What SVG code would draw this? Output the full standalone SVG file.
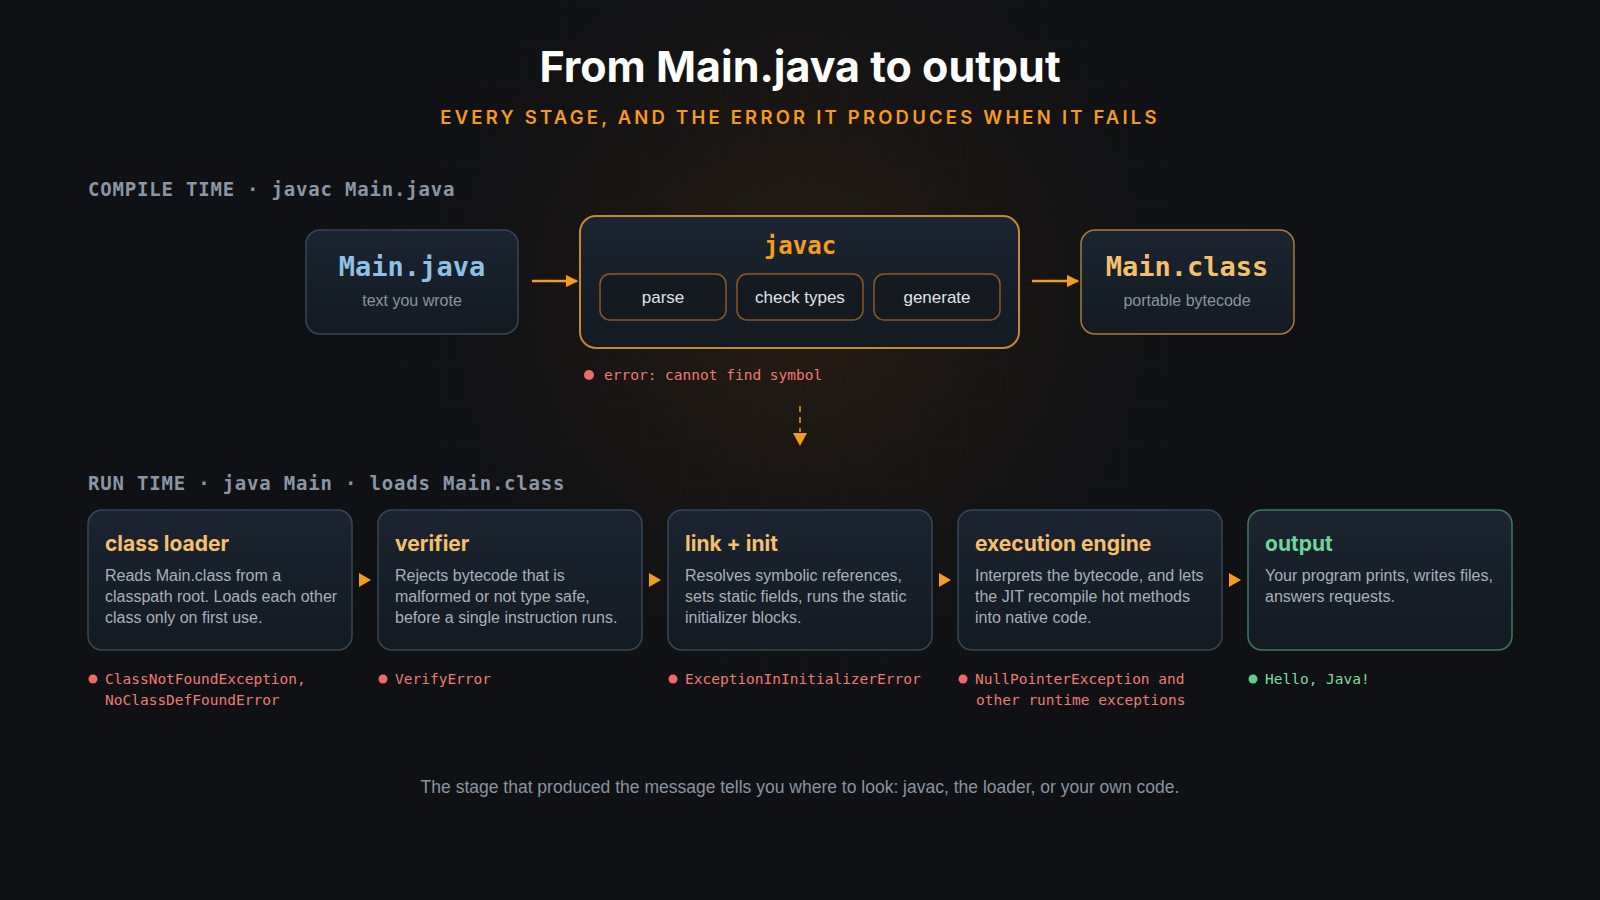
<svg xmlns="http://www.w3.org/2000/svg" width="1600" height="900" viewBox="0 0 1600 900">
<defs>
<radialGradient id="glow" cx="800" cy="300" r="520" gradientUnits="userSpaceOnUse"><stop offset="0" stop-color="#3a2510" stop-opacity="0.6"/><stop offset="1" stop-color="#0f1115" stop-opacity="0"/></radialGradient>
<linearGradient id="box" x1="0" y1="0" x2="0" y2="1"><stop offset="0" stop-color="#1b2430"/><stop offset="1" stop-color="#131a22"/></linearGradient>
<pattern id="grid" width="40" height="40" patternUnits="userSpaceOnUse"><path d="M40 0H0V40" fill="none" stroke="#ffffff" stroke-opacity="0.025"/></pattern>
<marker id="ah" viewBox="0 0 10 10" refX="9" refY="5" markerWidth="5" markerHeight="5" orient="auto"><path d="M0 0L10 5L0 10Z" fill="#f39c1f"/></marker>
</defs>
<style>
.sans{font-family:Inter,"Liberation Sans",sans-serif}
.lib{font-family:"Liberation Sans",Arial,sans-serif}
.mono{font-family:"DejaVu Sans Mono","Liberation Mono",monospace}
.node{fill:url(#box);stroke:#34485a;stroke-width:1.5}
.onode{fill:url(#box);stroke:#c8862e;stroke-width:2}
.sub{fill:#151a21;stroke:#8a5a25;stroke-width:1.5}
.ttl{font-size:21px;font-weight:700;fill:#f5c06a}
.desc{font-size:16px;fill:#a8b0ba}
.err{font-size:14.5px;fill:#ef7a72}
.dot{fill:#ef6a66}
.conn{stroke:#f39c1f;stroke-width:2.5;fill:none}
.sec{font-size:19px;font-weight:700;fill:#8a96a6;letter-spacing:0.8px}
</style>
<rect width="1600" height="900" fill="#0f1115"/>
<rect width="1600" height="900" fill="url(#grid)"/>
<rect width="1600" height="900" fill="url(#glow)"/>
<text x="800" y="82" text-anchor="middle" class="sans" font-size="43" font-weight="700" fill="#ffffff">From Main.java to output</text>
<text x="800" y="124" text-anchor="middle" class="sans" font-size="18.5" font-weight="600" fill="#f39c1f" letter-spacing="3.2">EVERY STAGE, AND THE ERROR IT PRODUCES WHEN IT FAILS</text>
<text x="88" y="196" class="mono sec">COMPILE TIME · javac Main.java</text>
<text x="88" y="490" class="mono sec">RUN TIME · java Main · loads Main.class</text>
<g id="connectors">
<line x1="532" y1="281" x2="577" y2="281" class="conn" marker-end="url(#ah)"/>
<line x1="1032" y1="281" x2="1078" y2="281" class="conn" marker-end="url(#ah)"/>
<line x1="800" y1="406" x2="800" y2="432" stroke="#f39c1f" stroke-width="1.5" stroke-dasharray="6 5"/>
<path d="M793 433H807L800 446Z" fill="#f39c1f"/>
<path d="M359 573l12 7l-12 7z" fill="#f39c1f"/>
<path d="M649 573l12 7l-12 7z" fill="#f39c1f"/>
<path d="M939 573l12 7l-12 7z" fill="#f39c1f"/>
<path d="M1229 573l12 7l-12 7z" fill="#f39c1f"/>
<text x="732" y="302" class="sans" font-size="12" fill="#d98a2a" text-anchor="middle">›</text>
<text x="868" y="302" class="sans" font-size="12" fill="#d98a2a" text-anchor="middle">›</text>
</g>
<g id="main-java"><rect x="306" y="230" width="212" height="104" rx="14" class="node"/>
<text x="412" y="276" text-anchor="middle" class="mono" font-size="27" font-weight="700" fill="#8ec1e6">Main.java</text>
<text x="412" y="306" text-anchor="middle" class="lib" font-size="16" fill="#8a94a0">text you wrote</text></g>
<g id="javac"><rect x="580" y="216" width="439" height="132" rx="16" class="onode"/>
<text x="800" y="254" text-anchor="middle" class="mono" font-size="24" font-weight="700" fill="#f39c1f">javac</text>
<rect x="600" y="274" width="126" height="46" rx="10" class="sub"/><text x="663" y="303" text-anchor="middle" class="lib" font-size="17" fill="#dfe3e8">parse</text>
<rect x="737" y="274" width="126" height="46" rx="10" class="sub"/><text x="800" y="303" text-anchor="middle" class="lib" font-size="17" fill="#dfe3e8">check types</text>
<rect x="874" y="274" width="126" height="46" rx="10" class="sub"/><text x="937" y="303" text-anchor="middle" class="lib" font-size="17" fill="#dfe3e8">generate</text></g>
<g id="compile-error"><circle cx="589" cy="375" r="5" class="dot"/><text x="604" y="380" class="mono err">error: cannot find symbol</text></g>
<g id="main-class"><rect x="1081" y="230" width="213" height="104" rx="14" fill="url(#box)" stroke="#a9793a" stroke-width="1.5"/>
<text x="1187" y="276" text-anchor="middle" class="mono" font-size="27" font-weight="700" fill="#f5c06a">Main.class</text>
<text x="1187" y="306" text-anchor="middle" class="lib" font-size="16" fill="#8a94a0">portable bytecode</text></g>
<g id="class-loader"><rect x="88" y="510" width="264" height="140" rx="14" class="node"/>
<text x="105" y="551" class="sans ttl">class loader</text>
<text class="lib desc"><tspan x="105" y="581">Reads Main.class from a</tspan><tspan x="105" y="602">classpath root. Loads each other</tspan><tspan x="105" y="623">class only on first use.</tspan></text>
<circle cx="93" cy="679" r="4.5" class="dot"/><text class="mono err"><tspan x="105" y="684">ClassNotFoundException,</tspan><tspan x="105" y="705">NoClassDefFoundError</tspan></text></g>
<g id="verifier"><rect x="378" y="510" width="264" height="140" rx="14" class="node"/>
<text x="395" y="551" class="sans ttl">verifier</text>
<text class="lib desc"><tspan x="395" y="581">Rejects bytecode that is</tspan><tspan x="395" y="602">malformed or not type safe,</tspan><tspan x="395" y="623">before a single instruction runs.</tspan></text>
<circle cx="383" cy="679" r="4.5" class="dot"/><text x="395" y="684" class="mono err">VerifyError</text></g>
<g id="link-init"><rect x="668" y="510" width="264" height="140" rx="14" class="node"/>
<text x="685" y="551" class="sans ttl">link + init</text>
<text class="lib desc"><tspan x="685" y="581">Resolves symbolic references,</tspan><tspan x="685" y="602">sets static fields, runs the static</tspan><tspan x="685" y="623">initializer blocks.</tspan></text>
<circle cx="673" cy="679" r="4.5" class="dot"/><text x="685" y="684" class="mono err">ExceptionInInitializerError</text></g>
<g id="execution-engine"><rect x="958" y="510" width="264" height="140" rx="14" class="node"/>
<text x="975" y="551" class="sans ttl">execution engine</text>
<text class="lib desc"><tspan x="975" y="581">Interprets the bytecode, and lets</tspan><tspan x="975" y="602">the JIT recompile hot methods</tspan><tspan x="975" y="623">into native code.</tspan></text>
<circle cx="963" cy="679" r="4.5" class="dot"/><text class="mono err"><tspan x="975" y="684">NullPointerException and</tspan><tspan x="976" y="705">other runtime exceptions</tspan></text></g>
<g id="output"><rect x="1248" y="510" width="264" height="140" rx="14" fill="url(#box)" stroke="#3d7a5e" stroke-width="1.5"/>
<text x="1265" y="551" class="sans ttl" style="fill:#6fd49a">output</text>
<text class="lib desc"><tspan x="1265" y="581">Your program prints, writes files,</tspan><tspan x="1265" y="602">answers requests.</tspan></text>
<circle cx="1253" cy="679" r="4.5" fill="#5fd08a"/><text x="1265" y="684" class="mono" font-size="14.5" fill="#7fdca0">Hello, Java!</text></g>
<text x="800" y="793" text-anchor="middle" class="lib" font-size="17.5" fill="#8a94a0">The stage that produced the message tells you where to look: javac, the loader, or your own code.</text>
</svg>
